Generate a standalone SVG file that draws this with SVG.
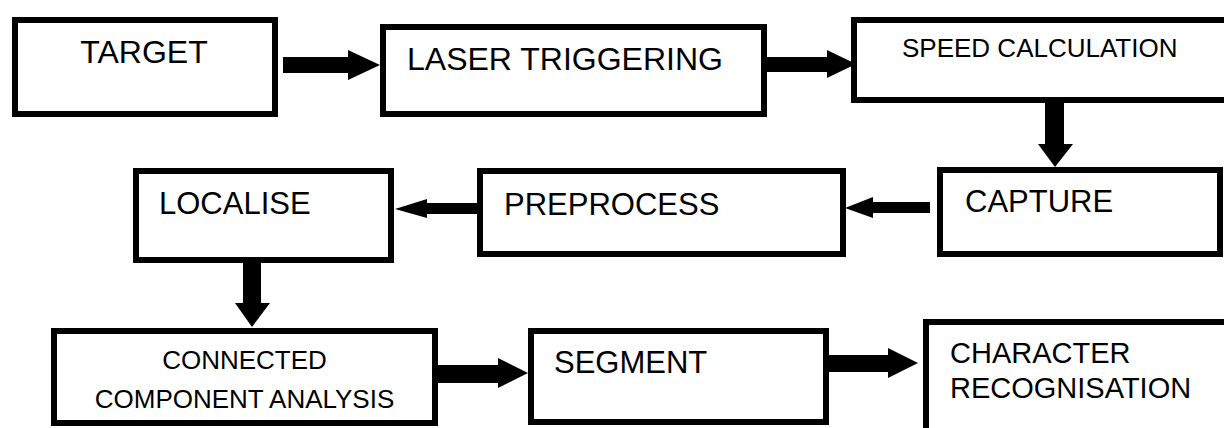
<svg xmlns="http://www.w3.org/2000/svg" width="1224" height="428" viewBox="0 0 1224 428">
<style>
.box{fill:#fff;stroke:#000;stroke-width:6}
.arr{fill:#000;stroke:none}
text{font-family:"Liberation Sans",Arial,sans-serif;fill:#000}
</style>
<rect width="1224" height="428" fill="#fff"/>
<g id="connectors">
<polygon class="arr" points="283,57 348,57 348,50 380,65 348,80 348,73 283,73"/>
<polygon class="arr" points="767,57 827,57 827,50 856,64 827,78 827,72 767,72"/>
<polygon class="arr" points="1045,103 1064,103 1064,144 1073,144 1055,167 1038,144 1045,144"/>
<polygon class="arr" points="930,202 873,202 873,197 845,208 873,218 873,213 930,213"/>
<polygon class="arr" points="477,203 427,203 427,199 395,209 427,218 427,214 477,214"/>
<polygon class="arr" points="243,263 261,263 261,303 270,303 252,327 235,303 243,303"/>
<polygon class="arr" points="438,365 498,365 498,358 528,373 498,388 498,383 438,383"/>
<polygon class="arr" points="829,355 888,355 888,348 918,363 888,378 888,372 829,372"/>
</g>
<g id="target">
<rect class="box" x="15" y="20" width="260" height="94"/>
<text x="144" y="63" font-size="32" text-anchor="middle">TARGET</text>
</g>
<g id="laser">
<rect class="box" x="383" y="27" width="381" height="87"/>
<text x="407" y="70" font-size="32">LASER TRIGGERING</text>
</g>
<g id="speed">
<rect class="box" x="854" y="20" width="400" height="80"/>
<text x="902" y="57" font-size="26">SPEED CALCULATION</text>
</g>
<g id="capture">
<rect class="box" x="940" y="170" width="280" height="84"/>
<text x="965" y="212" font-size="31">CAPTURE</text>
</g>
<g id="preprocess">
<rect class="box" x="480" y="171" width="363" height="83"/>
<text x="504" y="215" font-size="31">PREPROCESS</text>
</g>
<g id="localise">
<rect class="box" x="136" y="171" width="255" height="89"/>
<text x="159" y="214" font-size="31">LOCALISE</text>
</g>
<g id="connected">
<rect class="box" x="54" y="331" width="381" height="92"/>
<text x="244.5" y="369" font-size="26" text-anchor="middle">CONNECTED</text>
<text x="244.5" y="408" font-size="26" text-anchor="middle">COMPONENT ANALYSIS</text>
</g>
<g id="segment">
<rect class="box" x="531" y="331" width="295" height="91"/>
<text x="554" y="373" font-size="31">SEGMENT</text>
</g>
<g id="character">
<rect class="box" x="926" y="322" width="320" height="130"/>
<text x="950" y="363" font-size="29">CHARACTER</text>
<text x="950" y="398" font-size="29">RECOGNISATION</text>
</g>
</svg>
